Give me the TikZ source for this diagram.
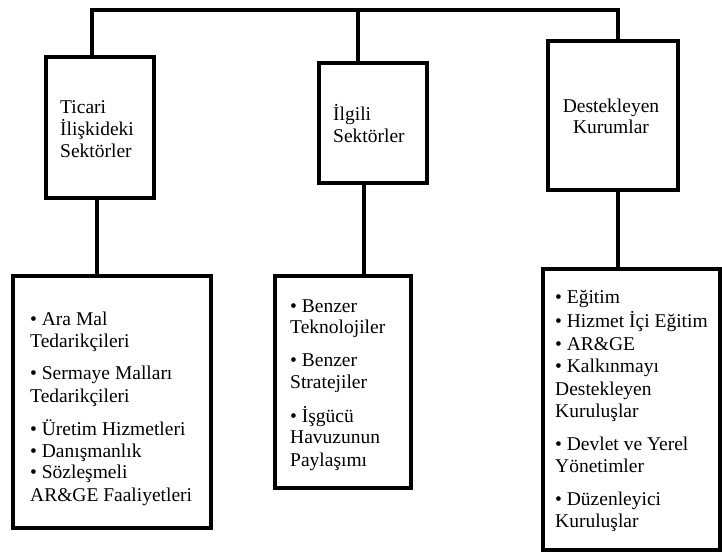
\documentclass[tikz,border=0pt]{standalone}
\usepackage{fontspec}
\setmainfont{Liberation Serif}
\begin{document}
\begin{tikzpicture}[x=1pt,y=-1pt,
  frame/.style={draw=black,line width=3.2pt,rectangle,inner sep=0pt,outer sep=0pt},
  link/.style={draw=black,line width=3.2pt},
  txt/.style={anchor=base west,inner sep=0pt,font=\fontsize{19.5}{22}\selectfont},
  ctxt/.style={anchor=base,inner sep=0pt,font=\fontsize{19.5}{22}\selectfont}]
\useasboundingbox (0,0) rectangle (722,552);
% top boxes
\node[frame,minimum width=108pt,minimum height=141pt] (t1) at (100,127.5) {};
\node[frame,minimum width=108pt,minimum height=120pt] (t2) at (373,123) {};
\node[frame,minimum width=130pt,minimum height=149pt] (t3) at (613,115.5) {};
% bottom boxes
\node[frame,minimum width=198pt,minimum height=252pt] (b1) at (112,402) {};
\node[frame,minimum width=136pt,minimum height=212pt] (b2) at (343,382) {};
\node[frame,minimum width=177pt,minimum height=281pt] (b3) at (631.5,409.5) {};
% connectors
\coordinate (L) at (92,10);
\coordinate (M) at (358,10);
\coordinate (R) at (618,10);
\draw[link] (L |- t1.north) -- (L) -- (R) -- (R |- t3.north);
\draw[link] (M) -- (M |- t2.north);
\coordinate (c1) at (97,0);
\coordinate (c2) at (364,0);
\coordinate (c3) at (618,0);
\draw[link] (c1 |- t1.south) -- (c1 |- b1.north);
\draw[link] (c2 |- t2.south) -- (c2 |- b2.north);
\draw[link] (c3 |- t3.south) -- (c3 |- b3.north);
% top texts
\foreach \y/\s [count=\i] in {113/Ticari,135/İlişkideki,157/Sektörler}
  \node[txt] (t1l\i) at (60,\y) {\s};
\foreach \y/\s [count=\i] in {120/İlgili,142/Sektörler}
  \node[txt] (t2l\i) at (333,\y) {\s};
\foreach \y/\s [count=\i] in {112/Destekleyen,133/Kurumlar}
  \node[ctxt] (t3l\i) at (611,\y) {\s};
% bottom texts
\foreach \y/\s [count=\i] in {325/• Ara Mal,347/Tedarikçileri,379/• Sermaye Malları,402/Tedarikçileri,435/• Üretim Hizmetleri,457/• Danışmanlık,478/• Sözleşmeli,501/AR\&GE Faaliyetleri}
  \node[txt] (b1l\i) at (30,\y) {\s};
\foreach \y/\s [count=\i] in {312/• Benzer,333/Teknolojiler,366/• Benzer,388/Stratejiler,422/• İşgücü,443/Havuzunun,466/Paylaşımı}
  \node[txt] (b2l\i) at (290,\y) {\s};
\foreach \y/\s [count=\i] in {303/• Eğitim,327/• Hizmet İçi Eğitim,350/• AR\&GE,372/• Kalkınmayı,395/Destekleyen,417/Kuruluşlar,450/• Devlet ve Yerel,472/Yönetimler,505/• Düzenleyici,527/Kuruluşlar}
  \node[txt] (b3l\i) at (555,\y) {\s};
\end{tikzpicture}
\end{document}
